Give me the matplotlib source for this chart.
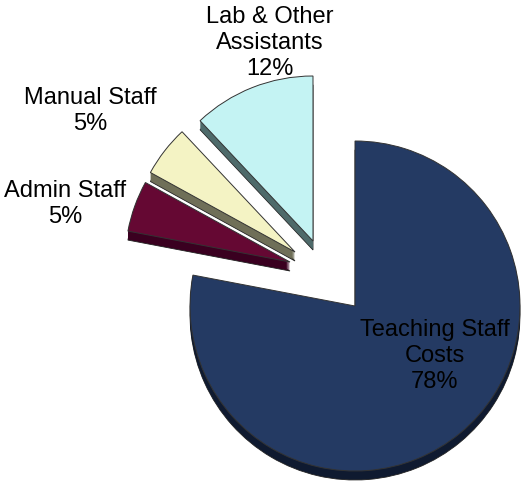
import matplotlib
matplotlib.use("Agg")
import matplotlib.pyplot as plt
from matplotlib.patches import Wedge

# data (clockwise from 12 o'clock)
labels = ["Teaching Staff\nCosts", "Admin Staff", "Manual Staff", "Lab & Other\nAssistants"]
values = [78, 5, 5, 12]

# styles
top_colors = ["#243a63", "#650833", "#f4f3c4", "#c4f3f3"]
side_colors = ["#0f1a30", "#3a0020", "#6f6f58", "#4e6a6a"]
offsets = [(0, 0), (-65, -44), (-60, -54), (-42, -65)]  # px, screen coords
label_pos = [(435, 356), (65, 204), (90, 111), (270, 43)]

W, H = 525, 483
cx, cy, r, depth = 355, 306, 165, 9

fig = plt.figure(figsize=(W / 100, H / 100), dpi=100)
ax = fig.add_axes([0, 0, 1, 1])
ax.set_xlim(0, W)
ax.set_ylim(0, H)
ax.set_aspect("equal")
ax.axis("off")

total = sum(values)
start = 90.0
for i, v in enumerate(values):
    end = start - 360.0 * v / total
    dx, dy = offsets[i]
    x0, y0 = cx + dx, H - (cy + dy)
    # side (extrusion)
    for k in range(depth, 0, -1):
        w = Wedge((x0, y0 - k), r, end, start, facecolor=side_colors[i],
                  edgecolor="#222222" if k == depth else "none", linewidth=0.6)
        ax.add_patch(w)
    # top face
    ax.add_patch(Wedge((x0, y0), r, end, start, facecolor=top_colors[i],
                       edgecolor="#333333", linewidth=0.7))
    start = end

for lab, v, (tx, ty) in zip(labels, values, label_pos):
    ax.text(tx, H - ty, f"{lab}\n{v}%", ha="center", va="center",
            fontsize=17, family="Liberation Sans", linespacing=1.22)

fig.savefig("out.png", dpi=100)
